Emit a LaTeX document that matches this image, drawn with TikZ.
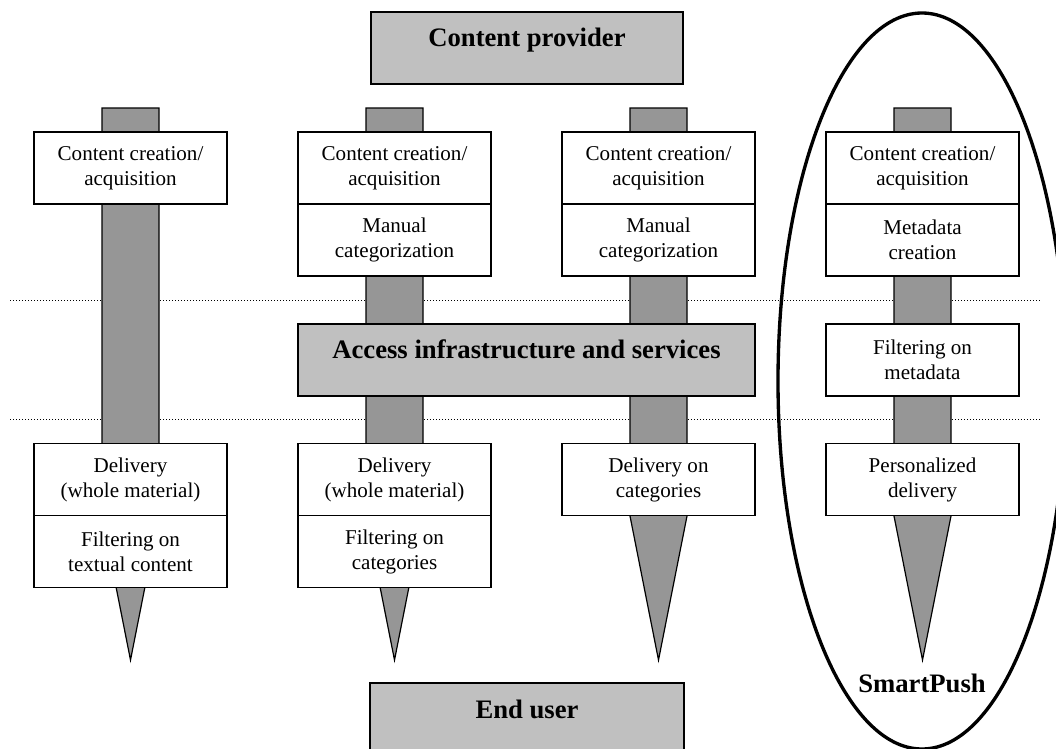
\documentclass[tikz,border=0pt]{standalone}
\usepackage{fontspec}
\setmainfont{Liberation Serif}

\tikzset{every picture/.style={line width=0.75pt}}
\tikzset{
  stepbox/.style={draw, line width=1.2pt, fill=white, minimum width=144.75pt, minimum height=54pt, inner sep=0.75pt, align=center, font=\fontsize{15.8}{18.8}\selectfont},
  bigbox/.style={draw, line width=1.2pt, fill={rgb, 255:red, 192; green, 192; blue, 192 }, minimum height=54pt, inner sep=0pt},
  bigtext/.style={anchor=base, inner sep=0.75pt, font=\fontsize{20}{24}\selectfont\bfseries},
  post/.style={draw, line width=0.9pt, fill={rgb, 255:red, 150; green, 150; blue, 150 }},
  levelline/.style={line width=0.75pt, dash pattern={on 0.75pt off 1.5pt}}
}

\begin{document}
\begin{tikzpicture}[x=0.75pt,y=0.75pt,yscale=-1,xscale=1]
\useasboundingbox (0,0) rectangle (1056,749);

%Straight Lines (levels)
\draw [levelline] (10,300) -- (1042,300) ;
\draw [levelline] (10,419) -- (1042,419) ;

%Shape: Posts
\draw [post] (102,108) -- (159,108) -- (159,516) -- (130.5,660) -- (102,516) -- cycle ;
\draw [post] (366,108) -- (423,108) -- (423,516) -- (394.5,660) -- (366,516) -- cycle ;
\draw [post] (630,108) -- (687,108) -- (687,516) -- (658.5,660) -- (630,516) -- cycle ;
\draw [post] (894,108) -- (951,108) -- (951,516) -- (922.5,660) -- (894,516) -- cycle ;

%Shape: Rectangle (provider, access, user)
\node [bigbox, minimum width=234pt] (provider) at (527,48) {};
\node [bigbox, minimum width=342.75pt] (access) at (526.5,360) {};
\node [bigbox, minimum width=235.5pt] (user) at (527,719) {};

% Text Node
\node [bigtext] (providertext) at (527,47) {Content provider};
% Text Node
\node [bigtext] (accesstext) at (526.5,358) {Access infrastructure and services};
% Text Node
\node [bigtext] (usertext) at (527,718) {End user};

%Column 1
\node [stepbox] (create1) at (130.5,168) {Content creation/\\acquisition};
\node [stepbox] (deliver1) at (130.5,479.5) {Delivery\\(whole material)};
\node [stepbox] (filter1) at (130.5,551.5) {Filtering on\\textual content};

%Column 2
\node [stepbox] (create2) at (394.5,168) {Content creation/\\acquisition};
\node [stepbox] (sort2) at (394.5,240) {Manual\\categorization};
\node [stepbox] (deliver2) at (394.5,479.5) {Delivery\\(whole material)};
\node [stepbox] (filter2) at (394.5,551.5) {Filtering on\\categories};

%Column 3
\node [stepbox] (create3) at (658.5,168) {Content creation/\\acquisition};
\node [stepbox] (sort3) at (658.5,240) {Manual\\categorization};
\node [stepbox] (deliver3) at (658.5,479.5) {Delivery on\\categories};

%Column 4
\node [stepbox] (create4) at (922.5,168) {Content creation/\\acquisition};
\node [stepbox] (meta4) at (922.5,240) {Metadata\\creation};
\node [stepbox] (filter4) at (922.5,360) {Filtering on\\metadata};
\node [stepbox] (deliver4) at (922.5,479.5) {Personalized\\delivery};

%Shape: Ellipse
\draw [line width=2.5] (922,381) ellipse [x radius=144, y radius=368] ;

% Text Node
\node [bigtext] (smartpush) at (922,692) {SmartPush};

\end{tikzpicture}
\end{document}
